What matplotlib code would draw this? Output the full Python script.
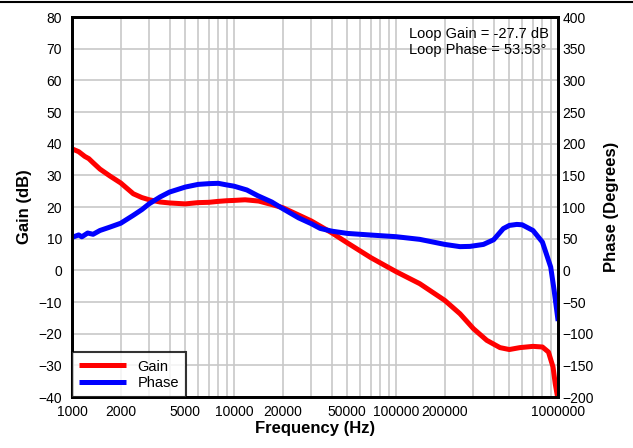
import numpy as np
import matplotlib
matplotlib.use("Agg")
import matplotlib.pyplot as plt
from matplotlib.lines import Line2D
from matplotlib.ticker import FixedLocator, FixedFormatter, NullFormatter

plt.rcParams['font.family'] = ['Liberation Sans', 'DejaVu Sans']

# ============================================
#  DADOS
# ============================================
gain_freq = [1000, 1100, 1200, 1270, 1350, 1488, 1716, 2000, 2390, 2700,
             3000, 3500, 4000, 5000, 6000, 7000, 8000, 9000, 10000,
             11700, 14200, 17100, 20000, 25000, 30000, 40000, 50000, 70000,
             100000, 140000, 200000, 248000, 300000, 363000, 438000, 500000,
             580000, 700000, 800000, 872000, 930000, 960000, 1000000]
gain_db = [38.4, 37.5, 36.0, 35.3, 34.0, 32.0, 29.8, 27.6, 24.2, 23.0,
           22.3, 21.6, 21.3, 21.0, 21.4, 21.5, 21.8, 22.0, 22.1,
           22.3, 21.9, 20.8, 19.8, 17.5, 15.6, 11.9, 8.7, 4.0,
           -0.4, -4.2, -9.5, -13.7, -18.4, -22.1, -24.4, -25.0,
           -24.4, -24.0, -24.2, -25.8, -30.5, -35.8, -41.0]

phase_freq = [1000, 1100, 1150, 1250, 1350, 1488, 1716, 2000, 2390, 2700,
              3000, 3500, 4000, 5000, 6000, 7000, 8000, 9000,
              10000, 12000, 14000, 17100, 20000, 25000, 30000, 34000, 40000,
              50000, 70000, 100000, 140000, 200000, 248000, 286000, 346000,
              400000, 459000, 500000, 556000, 600000, 700000, 800000, 900000,
              945000, 1000000]
phase_deg = [52, 56, 53, 59, 57, 63, 68.4, 74.5, 87, 96,
             105.3, 116, 123.7, 131.6, 135.8, 137, 137.5, 135,
             133, 127, 118, 108, 97.4, 83, 73.7, 66.3, 62,
             58.4, 55.8, 53.2, 49, 41, 37.5, 37.9, 41,
             48.4, 66, 71, 72.6, 72, 63, 44.7, 5.3,
             -31.6, -80]

xtick_vals = [1000, 2000, 5000, 10000, 20000, 50000, 100000, 200000, 1000000]
xtick_labels = [str(v) for v in xtick_vals]
gain_ticks = np.arange(-40, 81, 10)
phase_ticks = np.arange(-200, 401, 50)

loop_text = "Loop Gain = -27.7 dB\nLoop Phase = 53.53°"

# ============================================
#  FIGURA
# ============================================
fig = plt.figure(figsize=(6.33, 4.48), dpi=100)
ax1 = fig.add_axes([0.1137, 0.1138, 0.768, 0.848])
ax2 = ax1.twinx()

# linha preta no topo da figura
fig.add_artist(Line2D([0, 1], [1 - 2.0 / 448, 1 - 2.0 / 448],
                      color="black", lw=1.5, transform=fig.transFigure))

l1, = ax1.plot(gain_freq, gain_db, color="#ff0000", lw=3.6,
               solid_capstyle="butt", solid_joinstyle="round", label="Gain")
l2, = ax2.plot(phase_freq, phase_deg, color="#0000ff", lw=3.6,
               solid_capstyle="butt", solid_joinstyle="round", label="Phase")

ax1.set_xscale("log")
ax1.set_xlim(1000, 1000000)
ax1.set_ylim(-40, 80)
ax2.set_ylim(-200, 400)

# ticks do eixo x: rótulos só em alguns, grade em todos os múltiplos
minor = [m * 10**d for d in range(3, 6) for m in range(2, 10)]
ax1.xaxis.set_major_locator(FixedLocator(xtick_vals))
ax1.xaxis.set_major_formatter(FixedFormatter(xtick_labels))
ax1.xaxis.set_minor_locator(FixedLocator(minor))
ax1.xaxis.set_minor_formatter(NullFormatter())
ax1.set_yticks(gain_ticks)
ax2.set_yticks(phase_ticks)

ax1.grid(True, which="both", color="#c8c8c8", lw=1.2)
ax1.set_axisbelow(True)

ax1.tick_params(axis="both", which="both", length=0, labelsize=10)
ax1.tick_params(axis="y", pad=7)
ax1.tick_params(axis="x", pad=6)
ax2.tick_params(axis="y", length=0, labelsize=10, pad=3)

for ax in (ax1, ax2):
    for s in ax.spines.values():
        s.set_linewidth(2)
        s.set_color("black")

ax1.set_xlabel("Frequency (Hz)", fontsize=12, fontweight="bold", labelpad=1)
ax1.set_ylabel("Gain (dB)", fontsize=12, fontweight="bold", labelpad=5)
ax2.set_ylabel("Phase (Degrees)", fontsize=12, fontweight="bold", labelpad=7)

ax1.text(0.693, 0.975, loop_text, transform=ax1.transAxes, fontsize=10.5,
         va="top", ha="left", linespacing=1.25)

leg = ax2.legend(handles=[l1, l2], loc="lower left", fontsize=10.5,
                 frameon=True, fancybox=False, borderaxespad=0,
                 handlelength=3.2, borderpad=0.5, labelspacing=0.15)
leg.get_frame().set_edgecolor("black")
leg.get_frame().set_linewidth(1.5)

plt.savefig("out.png", dpi=100)
